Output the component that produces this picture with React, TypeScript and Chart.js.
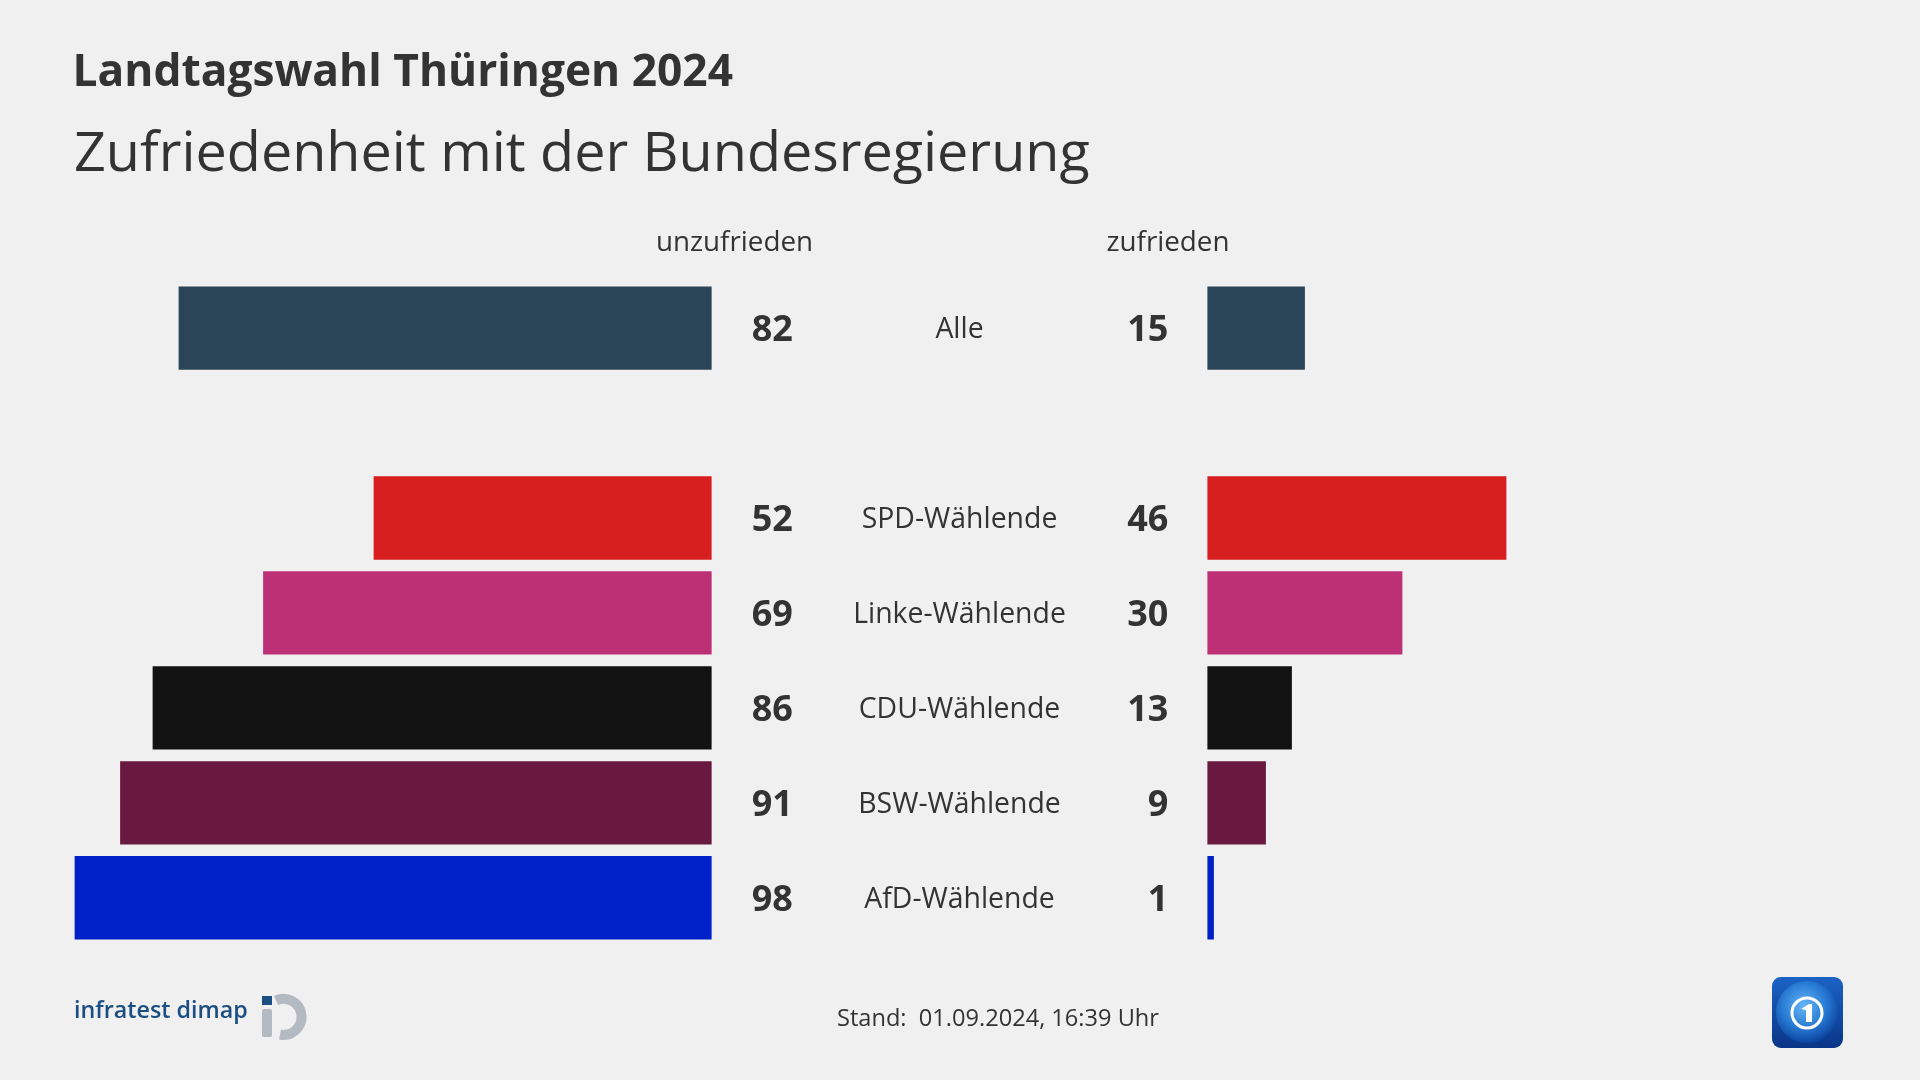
import React, { useEffect, useRef } from "react";
import { Chart, registerables } from "chart.js";

Chart.register(...registerables);

// ---- Data ----
const categories = ["Alle", "", "SPD-Wählende", "Linke-Wählende", "CDU-Wählende", "BSW-Wählende", "AfD-Wählende"];
const unzufrieden: (number | null)[] = [82, null, 52, 69, 86, 91, 98];
const zufrieden: (number | null)[] = [15, null, 46, 30, 13, 9, 1];
const barColors = ["#2a4558", "rgba(0,0,0,0)", "#d71f1f", "#bd3075", "#121212", "#691940", "#0021c8"];

const TITLE = "Landtagswahl Thüringen 2024";
const SUBTITLE = "Zufriedenheit mit der Bundesregierung";
const HEAD_LEFT = "unzufrieden";
const HEAD_RIGHT = "zufrieden";
const FOOTER = "Stand:\u00a0 01.09.2024, 16:39 Uhr";

const TEXT = "#333333";
const FONT = '"Open Sans", "Noto Sans", sans-serif';

const labelPlugin = {
  id: "valueLabels",
  afterDatasetsDraw(chart: any) {
    const { ctx, scales } = chart;
    const y = scales.y;
    const xL = scales.xL;
    const xR = scales.xR;
    const leftZero = xL.getPixelForValue(0);
    const rightZero = xR.getPixelForValue(0);
    const mid = (leftZero + rightZero) / 2;
    ctx.save();
    ctx.fillStyle = TEXT;
    ctx.textBaseline = "alphabetic";
    categories.forEach((cat, i) => {
      const cy = y.getPixelForValue(i);
      const l = unzufrieden[i];
      const r = zufrieden[i];
      ctx.font = `bold 36px ${FONT}`;
      if (l != null) {
        ctx.textAlign = "left";
        ctx.fillText(String(l), leftZero + 40, cy + 12.8);
      }
      if (r != null) {
        ctx.textAlign = "right";
        ctx.fillText(String(r), rightZero - 39, cy + 12.8);
      }
      if (cat) {
        ctx.font = `28.4px ${FONT}`;
        ctx.textAlign = "center";
        ctx.fillText(cat, mid, cy + 10.3);
      }
    });
    ctx.restore();
  },
};

export default function App() {
  const canvasRef = useRef<HTMLCanvasElement | null>(null);

  useEffect(() => {
    document.body.style.margin = "0";
    const canvas = canvasRef.current;
    if (!canvas) return;
    const chart = new Chart(canvas, {
      type: "bar",
      data: {
        labels: categories,
        datasets: [
          {
            label: HEAD_LEFT,
            data: unzufrieden,
            xAxisID: "xL",
            backgroundColor: barColors,
            borderWidth: 0,
            grouped: false,
            barPercentage: 0.878,
            categoryPercentage: 1,
          } as any,
          {
            label: HEAD_RIGHT,
            data: zufrieden,
            xAxisID: "xR",
            backgroundColor: barColors,
            borderWidth: 0,
            grouped: false,
            barPercentage: 0.878,
            categoryPercentage: 1,
          } as any,
        ],
      },
      options: {
        indexAxis: "y",
        responsive: false,
        animation: false,
        devicePixelRatio: 1,
        layout: { padding: { top: 280.7, bottom: 134.8, left: 0, right: 0 } },
        plugins: { legend: { display: false }, tooltip: { enabled: false }, title: { display: false } },
        scales: {
          y: { type: "category", display: false, grid: { display: false } },
          xL: {
            type: "linear",
            axis: "x",
            position: "bottom",
            reverse: true,
            min: -185.9,
            max: 109.48,
            display: false,
            grid: { display: false },
          },
          xR: {
            type: "linear",
            axis: "x",
            position: "bottom",
            min: -185.75,
            max: 109.63,
            display: false,
            grid: { display: false },
          },
        },
      } as any,
      plugins: [labelPlugin],
    });
    return () => chart.destroy();
  }, []);

  const textBase: React.CSSProperties = {
    position: "absolute",
    fontFamily: FONT,
    color: TEXT,
    lineHeight: 1,
    whiteSpace: "nowrap",
    margin: 0,
  };

  return (
    <div
      style={{
        position: "absolute",
        left: 0,
        top: 0,
        width: 1920,
        height: 1080,
        background: "#f0f0f0",
        overflow: "hidden",
      }}
    >
      <canvas ref={canvasRef} width={1920} height={1080} style={{ position: "absolute", left: 0, top: 0, width: 1920, height: 1080 }} />
      <div style={{ ...textBase, left: 72.5, top: 47.3, fontSize: 44.3, fontWeight: 700 }}>{TITLE}</div>
      <div style={{ ...textBase, left: 74, top: 122.2, fontSize: 55.7, fontWeight: 400 }}>{SUBTITLE}</div>
      <div style={{ ...textBase, left: 634.5, width: 200, textAlign: "center", top: 227, fontSize: 27.8 }}>{HEAD_LEFT}</div>
      <div style={{ ...textBase, left: 1068, width: 200, textAlign: "center", top: 227, fontSize: 27.8 }}>{HEAD_RIGHT}</div>
      <div style={{ ...textBase, left: 798, width: 400, textAlign: "center", top: 1005.7, fontSize: 23.6 }}>{FOOTER}</div>
      <div style={{ ...textBase, left: 74, top: 998, fontSize: 23.3, color: "#1b4f82", fontWeight: 600 }}>infratest dimap</div>
      <svg width={1920} height={1080} style={{ position: "absolute", left: 0, top: 0, pointerEvents: "none" }}>
        <defs>
          <linearGradient id="ardBg" x1="0" y1="0" x2="0" y2="1">
            <stop offset="0" stopColor="#1b63c4" />
            <stop offset="1" stopColor="#0a3587" />
          </linearGradient>
          <radialGradient id="ardGlobe" cx="0.45" cy="0.4" r="0.6">
            <stop offset="0" stopColor="#6fc0ff" />
            <stop offset="0.6" stopColor="#2a7fd8" />
            <stop offset="1" stopColor="#0c47a3" />
          </radialGradient>
        </defs>
        {/* infratest dimap mark */}
        <rect x={262} y={996} width={10} height={9} fill="#1b4f82" />
        <rect x={262} y={1009} width={10} height={28} rx={2} fill="#b3bac1" />
        <path d="M 276 1000.5 A 18 18 0 1 1 280 1034.5" fill="none" stroke="#b3bac1" strokeWidth={10} />
        {/* ARD logo */}
        <rect x={1772} y={977} width={71} height={71} rx={9} fill="url(#ardBg)" />
        <circle cx={1807} cy={1012} r={31} fill="url(#ardGlobe)" opacity={0.9} />
        <circle cx={1807} cy={1013} r={15} fill="none" stroke="#ffffff" strokeWidth={3} />
        <path d="M 1801 1009 L 1809 1004 L 1812 1004 L 1812 1022 L 1806 1022 L 1806 1010 Z" fill="#ffffff" />
      </svg>
    </div>
  );
}
